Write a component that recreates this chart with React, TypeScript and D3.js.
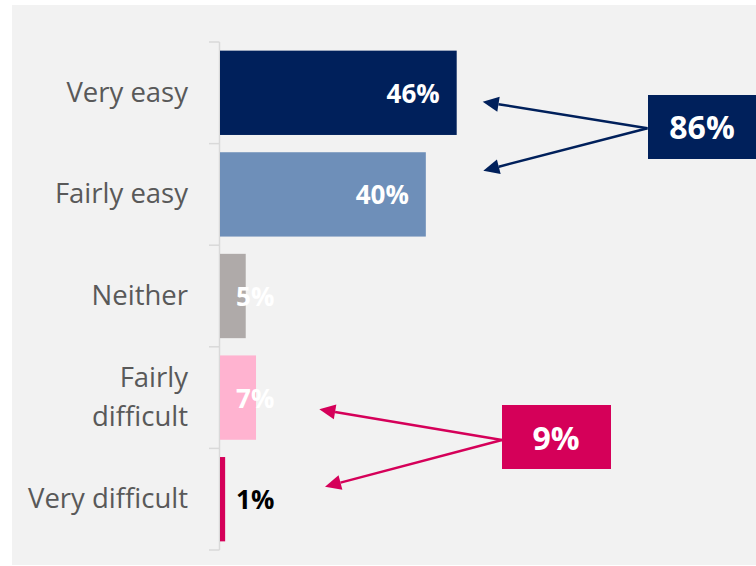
import React from "react";
import * as d3 from "d3";

const categories = ["Very easy", "Fairly easy", "Neither", "Fairly difficult", "Very difficult"];
const labelLines = [["Very easy"], ["Fairly easy"], ["Neither"], ["Fairly", "difficult"], ["Very difficult"]];
const values = [46, 40, 5, 7, 1];
const barColors = ["#00205B", "#6E8FB9", "#AFAAA9", "#FFB3D0", "#D50059"];
const valueLabelColors = ["#FFFFFF", "#FFFFFF", "#FFFFFF", "#FFFFFF", "#000000"];
const calloutLabels = ["86%", "9%"];
const calloutColors = ["#00205B", "#D50059"];

const W = 756;
const H = 566;
const FONT = "'Open Sans', 'DejaVu Sans', sans-serif";

export default function App() {
  const x = d3.scaleLinear().domain([0, 46]).range([220, 456.7]);
  const y = d3.scaleBand<string>().domain(categories).range([42, 550]).paddingInner(0.17).paddingOuter(0.085);
  const step = y.step();
  const ticks = d3.range(categories.length + 1).map((i) => 42 + i * step);

  // callout annotation layout
  const callouts = [
    {
      box: { x: 648, y: 95, w: 112, h: 64 },
      textX: 702,
      textY: 139,
      from: [647.5, 128.3],
      tips: [
        [482.7, 101.7],
        [483.3, 170.7],
      ],
    },
    {
      box: { x: 502, y: 405, w: 109, h: 64 },
      textX: 556,
      textY: 450,
      from: [502, 440],
      tips: [
        [319.3, 409.3],
        [325, 486.7],
      ],
    },
  ];

  const arrowHead = (sx: number, sy: number, tx: number, ty: number) => {
    const dx = tx - sx;
    const dy = ty - sy;
    const len = Math.hypot(dx, dy);
    const ux = dx / len;
    const uy = dy / len;
    const L = 16;
    const hw = 7.5;
    const bx = tx - ux * L;
    const by = ty - uy * L;
    const px = -uy;
    const py = ux;
    return {
      pts: `${tx},${ty} ${bx + px * hw},${by + py * hw} ${bx - px * hw},${by - py * hw}`,
      bx,
      by,
    };
  };

  return (
    <div style={{ position: "absolute", left: 0, top: 0 }}>
      <svg width={W} height={H} style={{ display: "block" }}>
        <rect x={0} y={0} width={W} height={H} fill="#FFFFFF" />
        <rect x={12} y={5} width={W - 12} height={560} fill="#F2F2F2" />

        {/* axis */}
        <line x1={219.5} x2={219.5} y1={42} y2={550} stroke="#D9D9D9" strokeWidth={1.5} />
        {ticks.map((t, i) => (
          <line key={i} x1={209} x2={219.5} y1={t} y2={t} stroke="#D9D9D9" strokeWidth={1.5} />
        ))}

        {/* bars */}
        {categories.map((c, i) => (
          <rect
            key={c}
            x={x(0)}
            y={y(c)!}
            width={x(values[i]) - x(0)}
            height={y.bandwidth()}
            fill={barColors[i]}
          />
        ))}

        {/* category labels */}
        {categories.map((c, i) => {
          const cy = y(c)! + y.bandwidth() / 2;
          const lines = labelLines[i];
          return (
            <text key={c} fontFamily={FONT} fontSize={27.5} fill="#595959" textAnchor="end">
              {lines.map((ln, j) => (
                <tspan key={j} x={188} y={cy + 9 + (j - (lines.length - 1) / 2) * 39}>
                  {ln}
                </tspan>
              ))}
            </text>
          );
        })}

        {/* value labels */}
        {categories.map((c, i) => {
          const cy = y(c)! + y.bandwidth() / 2;
          const inside = x(values[i]) - x(0) > 60;
          return (
            <text
              key={c}
              x={inside ? x(values[i]) - 17 : x(0) + 16}
              y={cy + 10}
              textAnchor={inside ? "end" : "start"}
              fontFamily={FONT}
              fontWeight={700}
              fontSize={26}
              fill={valueLabelColors[i]}
            >
              {values[i]}%
            </text>
          );
        })}

        {/* callouts */}
        {callouts.map((co, k) => (
          <g key={k}>
            {co.tips.map((t, j) => {
              const ah = arrowHead(co.from[0], co.from[1], t[0], t[1]);
              return (
                <g key={j}>
                  <line
                    x1={co.from[0]}
                    y1={co.from[1]}
                    x2={ah.bx}
                    y2={ah.by}
                    stroke={calloutColors[k]}
                    strokeWidth={2.5}
                  />
                  <polygon points={ah.pts} fill={calloutColors[k]} />
                </g>
              );
            })}
            <rect x={co.box.x} y={co.box.y} width={co.box.w} height={co.box.h} fill={calloutColors[k]} />
            <text
              x={co.textX}
              y={co.textY}
              textAnchor="middle"
              fontFamily={FONT}
              fontWeight={700}
              fontSize={32}
              fill="#FFFFFF"
            >
              {calloutLabels[k]}
            </text>
          </g>
        ))}
      </svg>
    </div>
  );
}
